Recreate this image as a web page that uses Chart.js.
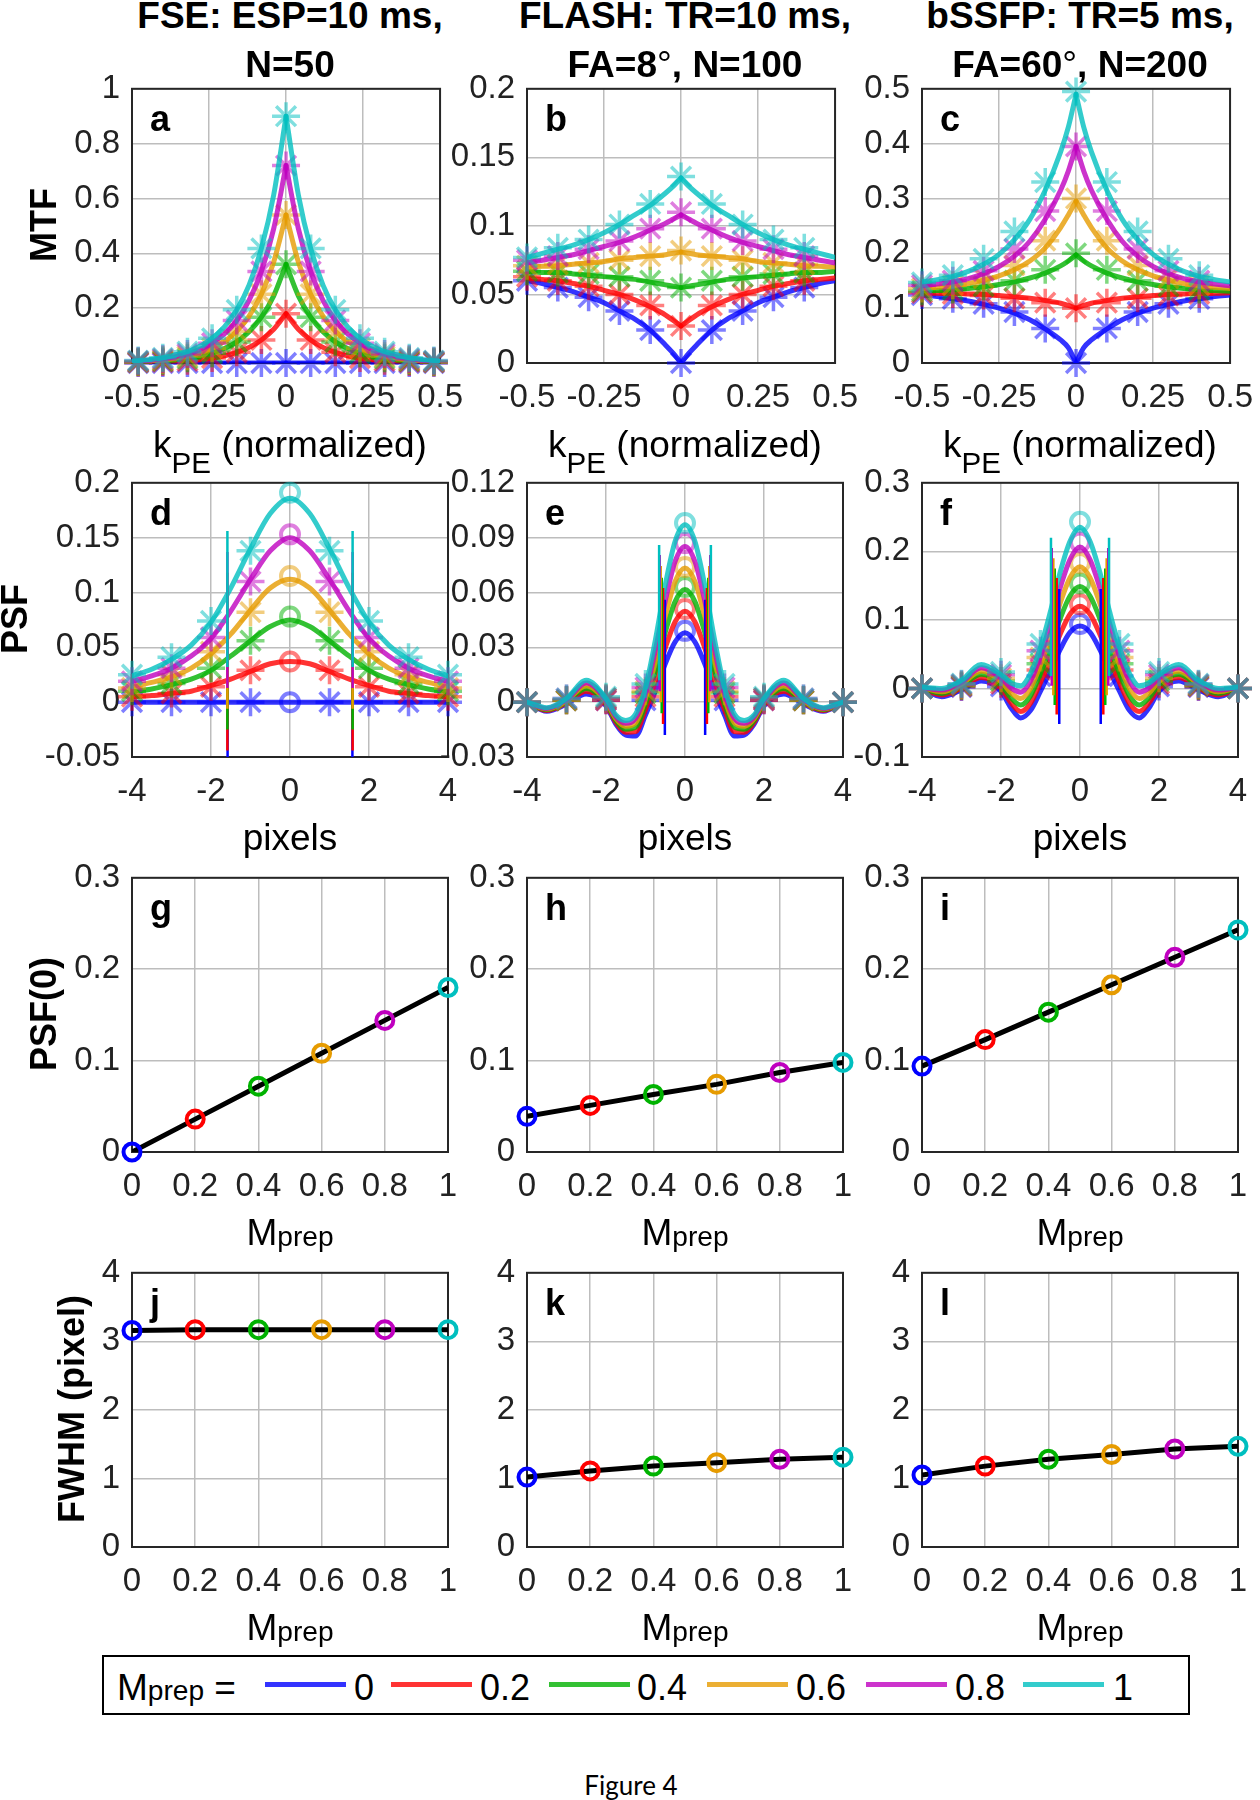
<!DOCTYPE html>
<html><head><meta charset="utf-8">
<script src="https://cdn.jsdelivr.net/npm/chart.js@4.4.0/dist/chart.umd.min.js"></script>
<style>
html,body{margin:0;padding:0;background:#fff;}
body{width:1260px;height:1800px;position:relative;overflow:hidden;font-family:"Liberation Sans",Arial,sans-serif;}
.t{position:absolute;white-space:nowrap;line-height:1;color:#000;}
canvas{position:absolute;}
</style></head><body>
<script>
// ---------------- DATA ----------------
const seriesLabels = ['0','0.2','0.4','0.6','0.8','1'];
const mprepValues = [0,0.2,0.4,0.6,0.8,1];

// Panel a: FSE MTF
const kCurveA = [-0.5,-0.45,-0.4,-0.35,-0.3,-0.25,-0.2,-0.16,-0.12,-0.08,-0.04,0,0.04,0.08,0.12,0.16,0.2,0.25,0.3,0.35,0.4,0.45,0.5];
const mtfFSE = [
 [0,0,0,0,0,0,0,0,0,0,0,0,0,0,0,0,0,0,0,0,0,0,0],
 [0.001,0.002,0.004,0.006,0.010,0.016,0.026,0.039,0.057,0.084,0.123,0.18,0.123,0.084,0.057,0.039,0.026,0.016,0.010,0.006,0.004,0.002,0.001],
 [0.003,0.005,0.008,0.013,0.020,0.033,0.053,0.077,0.114,0.167,0.245,0.36,0.245,0.167,0.114,0.077,0.053,0.033,0.020,0.013,0.008,0.005,0.003],
 [0.004,0.007,0.011,0.019,0.030,0.049,0.079,0.116,0.171,0.251,0.368,0.54,0.368,0.251,0.171,0.116,0.079,0.049,0.030,0.019,0.011,0.007,0.004],
 [0.006,0.009,0.015,0.025,0.040,0.066,0.106,0.155,0.228,0.334,0.490,0.72,0.490,0.334,0.228,0.155,0.106,0.066,0.040,0.025,0.015,0.009,0.006],
 [0.007,0.012,0.019,0.032,0.050,0.082,0.132,0.194,0.284,0.418,0.613,0.9,0.613,0.418,0.284,0.194,0.132,0.082,0.050,0.032,0.019,0.012,0.007]
];
const kMarkA = [-0.48,-0.4,-0.32,-0.24,-0.16,-0.08,0,0.08,0.16,0.24,0.32,0.4,0.48];
const markFSE = [
 [0,0,0,0,0,0,0,0,0,0,0,0,0],
 [0.002,0.004,0.008,0.018,0.039,0.084,0.18,0.084,0.039,0.018,0.008,0.004,0.002],
 [0.004,0.008,0.017,0.036,0.077,0.167,0.36,0.167,0.077,0.036,0.017,0.008,0.004],
 [0.005,0.011,0.025,0.054,0.116,0.251,0.54,0.251,0.116,0.054,0.025,0.011,0.005],
 [0.007,0.015,0.033,0.072,0.155,0.334,0.72,0.334,0.155,0.072,0.033,0.015,0.007],
 [0.009,0.019,0.041,0.090,0.194,0.418,0.9,0.418,0.194,0.090,0.041,0.019,0.009]
];

// Panels b, c: FLASH / bSSFP MTF
const kCurveBC = [-0.5,-0.45,-0.4,-0.35,-0.3,-0.25,-0.2,-0.15,-0.1,-0.05,-0.025,0,0.025,0.05,0.1,0.15,0.2,0.25,0.3,0.35,0.4,0.45,0.5];
const mtfFLASH = [
 [0.060,0.058,0.055,0.052,0.048,0.044,0.038,0.032,0.024,0.013,0.007,0,0.007,0.013,0.024,0.032,0.038,0.044,0.048,0.052,0.055,0.058,0.060],
 [0.062,0.061,0.060,0.058,0.056,0.053,0.050,0.046,0.041,0.035,0.031,0.027,0.031,0.035,0.041,0.046,0.050,0.053,0.056,0.058,0.060,0.061,0.062],
 [0.067,0.066,0.066,0.065,0.064,0.063,0.062,0.061,0.059,0.057,0.056,0.055,0.056,0.057,0.059,0.061,0.062,0.063,0.064,0.065,0.066,0.066,0.067],
 [0.070,0.0705,0.071,0.072,0.073,0.074,0.076,0.077,0.078,0.079,0.080,0.081,0.080,0.079,0.078,0.077,0.076,0.074,0.073,0.072,0.071,0.0705,0.070],
 [0.073,0.075,0.077,0.079,0.082,0.085,0.088,0.092,0.097,0.102,0.105,0.108,0.105,0.102,0.097,0.092,0.088,0.085,0.082,0.079,0.077,0.075,0.073],
 [0.077,0.080,0.083,0.086,0.090,0.095,0.101,0.108,0.115,0.124,0.129,0.135,0.129,0.124,0.115,0.108,0.101,0.095,0.090,0.086,0.083,0.080,0.077]
];
const mtfBSSFP = [
 [0.124,0.121,0.117,0.113,0.107,0.100,0.091,0.079,0.062,0.042,0.028,0,0.028,0.042,0.062,0.079,0.091,0.100,0.107,0.113,0.117,0.121,0.124],
 [0.128,0.127,0.127,0.126,0.125,0.123,0.121,0.118,0.114,0.109,0.105,0.100,0.105,0.109,0.114,0.118,0.121,0.123,0.125,0.126,0.127,0.127,0.128],
 [0.131,0.132,0.134,0.136,0.139,0.143,0.148,0.155,0.164,0.177,0.186,0.197,0.186,0.177,0.164,0.155,0.148,0.143,0.139,0.136,0.134,0.132,0.131],
 [0.136,0.138,0.141,0.145,0.151,0.159,0.170,0.186,0.210,0.247,0.270,0.295,0.270,0.247,0.210,0.186,0.170,0.159,0.151,0.145,0.141,0.138,0.136],
 [0.141,0.144,0.148,0.154,0.163,0.176,0.195,0.222,0.262,0.315,0.350,0.395,0.350,0.315,0.262,0.222,0.195,0.176,0.163,0.154,0.148,0.144,0.141],
 [0.148,0.152,0.158,0.167,0.180,0.198,0.225,0.262,0.315,0.385,0.430,0.490,0.430,0.385,0.315,0.262,0.225,0.198,0.180,0.167,0.158,0.152,0.148]
];
const kMarkBC = [-0.5,-0.4,-0.3,-0.2,-0.1,0,0.1,0.2,0.3,0.4];
const markFLASH = [
 [0.060,0.055,0.048,0.038,0.024,0,0.024,0.038,0.048,0.055],
 [0.063,0.060,0.056,0.050,0.042,0.027,0.042,0.050,0.056,0.060],
 [0.067,0.066,0.065,0.063,0.060,0.055,0.060,0.063,0.065,0.066],
 [0.071,0.072,0.073,0.075,0.078,0.082,0.078,0.075,0.073,0.072],
 [0.075,0.078,0.083,0.089,0.098,0.110,0.098,0.089,0.083,0.078],
 [0.077,0.084,0.090,0.101,0.116,0.136,0.116,0.101,0.090,0.084]
];
const markBSSFP = [
 [0.124,0.117,0.108,0.093,0.063,0,0.063,0.093,0.108,0.117],
 [0.128,0.126,0.123,0.118,0.110,0.100,0.110,0.118,0.123,0.126],
 [0.131,0.134,0.140,0.150,0.170,0.200,0.170,0.150,0.140,0.134],
 [0.136,0.142,0.155,0.178,0.223,0.300,0.223,0.178,0.155,0.142],
 [0.142,0.150,0.168,0.208,0.277,0.395,0.277,0.208,0.168,0.150],
 [0.147,0.160,0.190,0.240,0.330,0.495,0.330,0.240,0.190,0.160]
];

// Panel d: FSE PSF
const xCurveD = [-4,-3.5,-3,-2.5,-2,-1.5,-1,-0.5,0,0.5,1,1.5,2,2.5,3,3.5,4];
const psfFSE = [
 [0,0,0,0,0,0,0,0,0,0,0,0,0,0,0,0,0],
 [0.005,0.006,0.008,0.010,0.015,0.021,0.028,0.035,0.037,0.035,0.028,0.021,0.015,0.010,0.008,0.006,0.005],
 [0.0095,0.012,0.016,0.021,0.029,0.042,0.056,0.069,0.075,0.069,0.056,0.042,0.029,0.021,0.016,0.012,0.0095],
 [0.014,0.018,0.023,0.031,0.044,0.062,0.084,0.104,0.112,0.104,0.084,0.062,0.044,0.031,0.023,0.018,0.014],
 [0.019,0.024,0.031,0.042,0.058,0.083,0.112,0.138,0.150,0.138,0.112,0.083,0.058,0.042,0.031,0.024,0.019],
 [0.024,0.030,0.039,0.052,0.073,0.104,0.140,0.172,0.186,0.172,0.140,0.104,0.073,0.052,0.039,0.030,0.024]
];
const xMarkPSF = [-4,-3,-2,-1,1,2,3,4];
const starFSE = [
 [0,0,0,0,0,0,0,0],
 [0.005,0.008,0.014,0.029,0.029,0.014,0.008,0.005],
 [0.010,0.017,0.031,0.056,0.056,0.031,0.017,0.010],
 [0.013,0.025,0.046,0.082,0.082,0.046,0.025,0.013],
 [0.019,0.031,0.059,0.110,0.110,0.059,0.031,0.019],
 [0.025,0.041,0.074,0.138,0.138,0.074,0.041,0.025]
];
const circFSE = [0,0.037,0.078,0.115,0.153,0.191];
const lineBotFSE = [-0.063,-0.044,-0.025,-0.006,0.013,0.032];
const lineTopFSE = [0.061,0.080,0.099,0.118,0.137,0.156];

// Panels e, f: FLASH / bSSFP PSF
const xCurveEF = [-4,-3.5,-3,-2.5,-2,-1.75,-1.5,-1.25,-1,-0.75,-0.5,-0.25,0,0.25,0.5,0.75,1,1.25,1.5,1.75,2,2.5,3,3.5,4];
const psfFLASH = [
 [0,-0.005,-0.001,0.0045,-0.002,-0.012,-0.018,-0.0185,-0.007,0.006,0.021,0.033,0.038,0.033,0.021,0.006,-0.007,-0.0185,-0.018,-0.012,-0.002,0.0045,-0.001,-0.005,0],
 [0,-0.0046,-0.0004,0.006,-0.0012,-0.011,-0.0164,-0.0161,-0.004,0.0116,0.0296,0.044,0.0498,0.044,0.0296,0.0116,-0.004,-0.0161,-0.0164,-0.011,-0.0012,0.006,-0.0004,-0.0046,0],
 [0,-0.0042,0.0002,0.0075,-0.0004,-0.010,-0.0148,-0.0137,-0.001,0.0172,0.0382,0.055,0.0616,0.055,0.0382,0.0172,-0.001,-0.0137,-0.0148,-0.010,-0.0004,0.0075,0.0002,-0.0042,0],
 [0,-0.0038,0.0008,0.009,0.0004,-0.009,-0.0132,-0.0113,0.002,0.0228,0.0468,0.066,0.0734,0.066,0.0468,0.0228,0.002,-0.0113,-0.0132,-0.009,0.0004,0.009,0.0008,-0.0038,0],
 [0,-0.0034,0.0014,0.0105,0.0012,-0.008,-0.0116,-0.0089,0.005,0.0284,0.0554,0.077,0.0852,0.077,0.0554,0.0284,0.005,-0.0089,-0.0116,-0.008,0.0012,0.0105,0.0014,-0.0034,0],
 [0,-0.003,0.002,0.012,0.002,-0.007,-0.010,-0.0065,0.008,0.034,0.064,0.088,0.097,0.088,0.064,0.034,0.008,-0.0065,-0.010,-0.007,0.002,0.012,0.002,-0.003,0]
];
const psfBSSFP = [
 [0,-0.012,-0.002,0.011,-0.004,-0.028,-0.043,-0.032,-0.004,0.026,0.057,0.082,0.091,0.082,0.057,0.026,-0.004,-0.032,-0.043,-0.028,-0.004,0.011,-0.002,-0.012,0],
 [0.0004,-0.0096,0.0008,0.0158,0.0008,-0.0208,-0.0336,-0.0212,0.0088,0.0432,0.0796,0.1086,0.1198,0.1086,0.0796,0.0432,0.0088,-0.0212,-0.0336,-0.0208,0.0008,0.0158,0.0008,-0.0096,0.0004],
 [0.0008,-0.0072,0.0036,0.0206,0.0056,-0.0136,-0.0242,-0.0104,0.0216,0.0604,0.1022,0.1352,0.1486,0.1352,0.1022,0.0604,0.0216,-0.0104,-0.0242,-0.0136,0.0056,0.0206,0.0036,-0.0072,0.0008],
 [0.0012,-0.0048,0.0064,0.0254,0.0104,-0.0064,-0.0148,0.0004,0.0344,0.0776,0.1248,0.1618,0.1774,0.1618,0.1248,0.0776,0.0344,0.0004,-0.0148,-0.0064,0.0104,0.0254,0.0064,-0.0048,0.0012],
 [0.0016,-0.0024,0.0092,0.0302,0.0152,0.0008,-0.0054,0.0112,0.0472,0.0948,0.1474,0.1884,0.2062,0.1884,0.1474,0.0948,0.0472,0.0112,-0.0054,0.0008,0.0152,0.0302,0.0092,-0.0024,0.0016],
 [0.002,0.0,0.012,0.035,0.020,0.008,0.004,0.022,0.060,0.112,0.170,0.215,0.235,0.215,0.170,0.112,0.060,0.022,0.004,0.008,0.020,0.035,0.012,0.0,0.002]
];
const starFLASH = [
 [0,0.001,0.001,0.001,0.001,0.001,0.001,0],
 [0,0.001,0.001,0.003,0.003,0.001,0.001,0],
 [0,0.001,0.002,0.005,0.005,0.002,0.001,0],
 [0,0.001,0.002,0.006,0.006,0.002,0.001,0],
 [0,0.002,0.002,0.008,0.008,0.002,0.002,0],
 [0,0.002,0.003,0.010,0.010,0.003,0.002,0]
];
const starBSSFP = [
 [0,0.002,0.003,0.018,0.018,0.003,0.002,0],
 [0,0.003,0.007,0.027,0.027,0.007,0.003,0],
 [0,0.004,0.011,0.036,0.036,0.011,0.004,0],
 [0,0.005,0.015,0.045,0.045,0.015,0.005,0],
 [0,0.006,0.020,0.055,0.055,0.020,0.006,0],
 [0,0.007,0.024,0.065,0.065,0.024,0.007,0]
];
const lineBotFLASH = [-0.018,-0.012,-0.006,0.0,0.006,0.012];
const lineTopFLASH = [0.056,0.0625,0.068,0.0745,0.0805,0.086];
const lineBotBSSFP = [-0.052,-0.038,-0.024,-0.010,0.004,0.018];
const lineTopBSSFP = [0.145,0.161,0.175,0.190,0.205,0.220];

// Panels g-l
const psf0FSE   = [0,0.036,0.072,0.108,0.144,0.18];
const psf0FLASH = [0.039,0.051,0.063,0.074,0.087,0.098];
const psf0BSSFP = [0.094,0.123,0.153,0.183,0.213,0.243];
const fwhmFSE   = [3.16,3.17,3.17,3.17,3.17,3.17];
const fwhmFLASH = [1.02,1.11,1.18,1.23,1.28,1.31];
const fwhmBSSFP = [1.05,1.18,1.28,1.35,1.43,1.47];

// Tick labels
const xTicksMTF = [-0.5,-0.25,0,0.25,0.5];
const xTicksPSF = [-4,-2,0,2,4];
const xTicksM = [0,0.2,0.4,0.6,0.8,1];
const yTicksA = [0,0.2,0.4,0.6,0.8,1];
const yTicksB = [0,0.05,0.1,0.15,0.2];
const yTicksC = [0,0.1,0.2,0.3,0.4,0.5];
const yTicksD = [-0.05,0,0.05,0.1,0.15,0.2];
const yTicksE = [-0.03,0,0.03,0.06,0.09,0.12];
const yTicksF = [-0.1,0,0.1,0.2,0.3];
const yTicksPSF0 = [0,0.1,0.2,0.3];
const yTicksFWHM = [0,1,2,3,4];

// ---------------- STYLE / LAYOUT ----------------
const COL = [[0,0,255],[255,0,0],[0,178,0],[230,155,0],[191,0,191],[0,191,191]];
const rgba = (c,a)=>`rgba(${c[0]},${c[1]},${c[2]},${a})`;
const FONT = '"Liberation Sans", Arial, sans-serif';
Chart.defaults.font.family = FONT;
const colX=[132,527,922], rowY=[87,481,876,1271], PW=316, PH=276;
const padL=130,padT=30,padR=30,padB=70;
const fmt = v => String(Math.round(v*1e6)/1e6);

const boxPlugin={id:'box',beforeDatasetsDraw(chart){const {ctx,chartArea:a}=chart;ctx.save();ctx.strokeStyle='#262626';ctx.lineWidth=2;ctx.strokeRect(a.left,a.top,a.right-a.left,a.bottom-a.top);ctx.restore();}};

function makeChart(col,row,datasets,xMin,xMax,xT,yMin,yMax,yT){
  const cv=document.createElement('canvas');
  const w=PW+padL+padR, h=PH+padT+padB;
  cv.width=w; cv.height=h;
  cv.style.left=(colX[col]-padL)+'px'; cv.style.top=(rowY[row]-padT)+'px';
  cv.style.width=w+'px'; cv.style.height=h+'px';
  document.body.appendChild(cv);
  datasets.forEach((d,i)=>d.order=-i);
  const tickFont={family:FONT,size:33};
  const grid={color:'#bdbdbd',lineWidth:1.5,drawTicks:false};
  new Chart(cv,{type:'scatter',data:{datasets},options:{
    responsive:false,animation:false,devicePixelRatio:1,
    layout:{padding:{left:0,top:padT,right:padR,bottom:0}},
    plugins:{legend:{display:false},tooltip:{enabled:false}},
    events:[],
    scales:{
      x:{type:'linear',min:xMin,max:xMax,
         afterBuildTicks:s=>{s.ticks=xT.map(v=>({value:v}));},
         afterFit:s=>{s.height=padB;},
         ticks:{font:tickFont,color:'#222',padding:15,maxRotation:0,autoSkip:false,callback:fmt},
         grid,border:{display:false}},
      y:{type:'linear',min:yMin,max:yMax,
         afterBuildTicks:s=>{s.ticks=yT.map(v=>({value:v}));},
         afterFit:s=>{s.width=padL;},
         ticks:{font:tickFont,color:'#222',padding:12,autoSkip:false,callback:fmt},
         grid,border:{display:false}}
    }},plugins:[boxPlugin]});
}

function curvePanel(xC,Y,xM,MY,split,circY,fw,bot,top){
  const ds=[];
  for(let s=0;s<6;s++){
    const pts=xC.map((x,i)=>({x,y:Y[s][i]}));
    const base={showLine:true,borderColor:rgba(COL[s],0.8),borderWidth:5,pointRadius:0,cubicInterpolationMode:'monotone',borderJoinStyle:'round',borderCapStyle:'round'};
    if(split){ds.push({...base,data:pts.filter(p=>p.x<=0)});ds.push({...base,data:pts.filter(p=>p.x>=0)});}
    else ds.push({...base,data:pts});
    ds.push({showLine:false,data:xM.map((x,i)=>({x,y:MY[s][i]})),pointStyle:'star',pointRadius:14,pointBorderWidth:3.5,pointBorderColor:rgba(COL[s],0.5),pointBackgroundColor:'rgba(0,0,0,0)',clip:false});
    if(circY) ds.push({showLine:false,data:[{x:0,y:circY[s]}],pointStyle:'circle',pointRadius:9,pointBorderWidth:4,pointBorderColor:rgba(COL[s],0.5),pointBackgroundColor:'rgba(0,0,0,0)',clip:false});
  }
  if(fw){
    for(let s=0;s<6;s++){
      const hx=fw[s]/2;
      [-hx,hx].forEach(x=>ds.push({showLine:true,data:[{x,y:bot[s]},{x,y:top[s]}],borderColor:rgba(COL[s],1),borderWidth:2.5,pointRadius:0}));
    }
  }
  return ds;
}
function summaryPanel(vals){
  const pts=mprepValues.map((x,i)=>({x,y:vals[i]}));
  return [
    {showLine:true,data:pts,borderColor:'#000',borderWidth:5,pointRadius:0,borderJoinStyle:'round'},
    {showLine:false,data:pts,pointStyle:'circle',pointRadius:8.5,pointBorderWidth:4,pointBorderColor:COL.map(c=>rgba(c,1)),pointBackgroundColor:'rgba(0,0,0,0)',clip:false}
  ];
}

makeChart(0,0,curvePanel(kCurveA,mtfFSE,kMarkA,markFSE,true),-0.5,0.5,xTicksMTF,0,1,yTicksA);
makeChart(1,0,curvePanel(kCurveBC,mtfFLASH,kMarkBC,markFLASH,true),-0.5,0.5,xTicksMTF,0,0.2,yTicksB);
makeChart(2,0,curvePanel(kCurveBC,mtfBSSFP,kMarkBC,markBSSFP,true),-0.5,0.5,xTicksMTF,0,0.5,yTicksC);
makeChart(0,1,curvePanel(xCurveD,psfFSE,xMarkPSF,starFSE,false,circFSE,fwhmFSE,lineBotFSE,lineTopFSE),-4,4,xTicksPSF,-0.05,0.2,yTicksD);
makeChart(1,1,curvePanel(xCurveEF,psfFLASH,xMarkPSF,starFLASH,false,psf0FLASH,fwhmFLASH,lineBotFLASH,lineTopFLASH),-4,4,xTicksPSF,-0.03,0.12,yTicksE);
makeChart(2,1,curvePanel(xCurveEF,psfBSSFP,xMarkPSF,starBSSFP,false,psf0BSSFP,fwhmBSSFP,lineBotBSSFP,lineTopBSSFP),-4,4,xTicksPSF,-0.1,0.3,yTicksF);
makeChart(0,2,summaryPanel(psf0FSE),0,1,xTicksM,0,0.3,yTicksPSF0);
makeChart(1,2,summaryPanel(psf0FLASH),0,1,xTicksM,0,0.3,yTicksPSF0);
makeChart(2,2,summaryPanel(psf0BSSFP),0,1,xTicksM,0,0.3,yTicksPSF0);
makeChart(0,3,summaryPanel(fwhmFSE),0,1,xTicksM,0,4,yTicksFWHM);
makeChart(1,3,summaryPanel(fwhmFLASH),0,1,xTicksM,0,4,yTicksFWHM);
makeChart(2,3,summaryPanel(fwhmBSSFP),0,1,xTicksM,0,4,yTicksFWHM);

// ---------------- TEXT ----------------
function addText(html,x,baseline,size,o={}){
  const d=document.createElement('div');d.className='t';
  d.style.fontSize=size+'px';d.style.fontWeight=o.bold?'bold':'normal';
  d.style.fontFamily=o.family||FONT;
  d.style.top=(baseline-(o.asc||0.8465)*size)+'px';d.style.left=x+'px';
  if(o.align!=='left')d.style.transform='translateX(-50%)';
  d.innerHTML=html;document.body.appendChild(d);return d;
}
function addVText(html,cx,cy,size){
  const d=document.createElement('div');d.className='t';
  d.style.fontSize=size+'px';d.style.fontWeight='bold';
  d.style.left=cx+'px';d.style.top=cy+'px';
  d.style.transform='translate(-50%,-50%) rotate(-90deg)';
  d.innerHTML=html;document.body.appendChild(d);
}
const deg='<span style="font-weight:normal">°</span>';
const titles=[['FSE: ESP=10 ms,','N=50'],['FLASH: TR=10 ms,','FA=8'+deg+', N=100'],['bSSFP: TR=5 ms,','FA=60'+deg+', N=200']];
const xLabelK='k<span style="font-size:0.8em;position:relative;top:16px">PE</span> (normalized)';
const xLabelM='M<span style="font-size:0.76em;position:relative;top:1px">prep</span>';
const xLabelBase=[457,850,1245,1640];
const xLabels=[xLabelK,'pixels',xLabelM,xLabelM];
const letters=[['a','b','c'],['d','e','f'],['g','h','i'],['j','k','l']];
for(let c=0;c<3;c++){
  const cx=colX[c]+PW/2;
  addText(titles[c][0],cx,28,37,{bold:true});
  addText(titles[c][1],cx,77,37,{bold:true});
  for(let r=0;r<4;r++){
    addText(xLabels[r],cx,xLabelBase[r],37);
    addText(letters[r][c],colX[c]+18,rowY[r]+44,36,{bold:true,align:'left'});
  }
}
addVText('MTF',44,rowY[0]+PH/2,36);
addVText('PSF',15,rowY[1]+PH/2,36);
addVText('PSF(0)',44,rowY[2]+PH/2,36);
addVText('FWHM (pixel)',72,rowY[3]+PH/2,36);

// Legend
const lg=document.createElement('div');
lg.style.cssText='position:absolute;left:102px;top:1655px;width:1088px;height:60px;border:2px solid #000;box-sizing:border-box;background:#fff;';
document.body.appendChild(lg);
addText('M<span style="font-size:0.76em">prep</span> =',117,1700,37,{align:'left'});
const lgLine=[265,391,549,707,866,1023];
const lgText=[354,480,637,796,955,1113];
for(let s=0;s<6;s++){
  const l=document.createElement('div');
  l.style.cssText=`position:absolute;left:${lgLine[s]}px;top:1682px;width:81px;height:5px;background:${rgba(COL[s],0.8)};`;
  document.body.appendChild(l);
  addText(seriesLabels[s],lgText[s],1700,36,{align:'left'});
}
addText('Figure 4',631,1795,26,{family:'Lato, sans-serif',asc:0.887});
</script>
</body></html>
